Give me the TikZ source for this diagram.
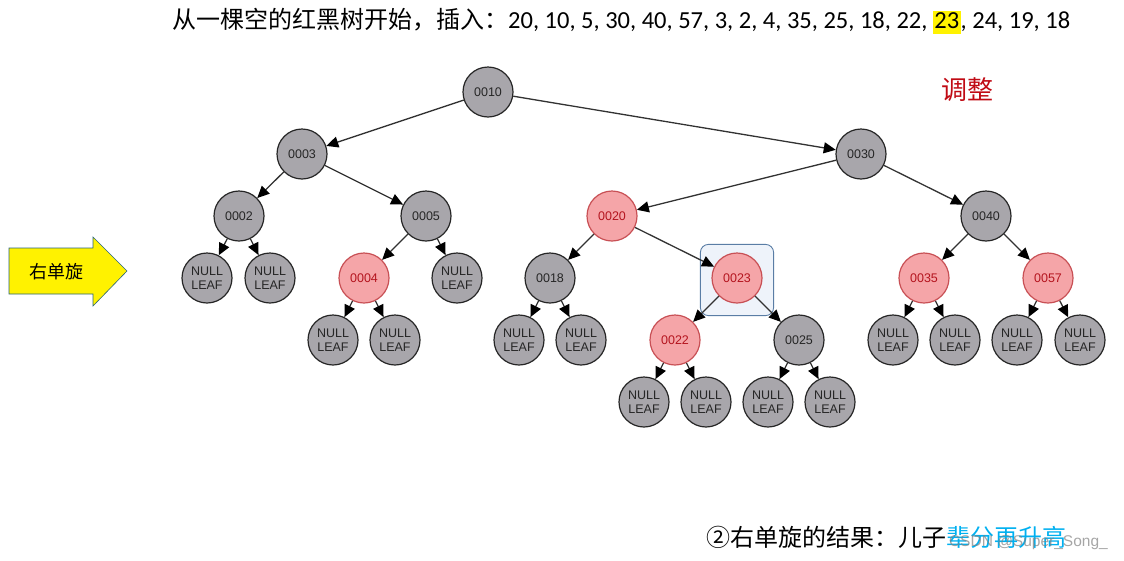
\documentclass[tikz,border=0pt]{standalone}
\usepackage{fontspec}
\usepackage{xcolor}
\usetikzlibrary{arrows.meta,fit,backgrounds}
\newfontfamily\cjk{Noto Sans CJK SC}
\newfontfamily\numfont{Carlito}
\newfontfamily\nodefont{Liberation Sans}
\newfontfamily\wmfont{Liberation Sans}
\definecolor{nodegray}{RGB}{168,166,171}
\definecolor{nodepink}{RGB}{245,165,168}
\definecolor{pinkline}{RGB}{200,80,85}
\definecolor{pinktext}{RGB}{180,20,30}
\definecolor{adjred}{RGB}{192,10,20}
\definecolor{boxblue}{RGB}{90,125,165}
\definecolor{boxfill}{RGB}{238,243,250}
\definecolor{arrowline}{RGB}{40,100,120}
\definecolor{lvblue}{RGB}{0,176,240}
\definecolor{edgegray}{RGB}{50,50,50}

\tikzset{
  blknode/.style={circle,draw=black!85,fill=nodegray,line width=1.2pt,
    minimum size=50pt,inner sep=0pt,text=black!85,align=center,
    font=\nodefont\fontsize{12.5}{14.5}\selectfont},
  rednode/.style={blknode,draw=pinkline,fill=nodepink,text=pinktext},
  nilnode/.style={blknode},
  edge/.style={draw=edgegray,line width=1.3pt,-{Triangle[length=12pt,width=11pt,color=black]}}
}

\begin{document}
\begin{tikzpicture}[x=1pt,y=-1pt]
  \useasboundingbox (0,0) rectangle (1124,560);
  % heading
  \node[anchor=base west,inner sep=0pt] (title) at (172,28)
    {\cjk\fontsize{24}{24}\selectfont 从一棵空的红黑树开始，插入：\numfont\fontsize{24.5}{24.5}\selectfont 20, 10, 5, 30, 40, 57, 3, 2, 4, 35, 25, 18, 22, {\fboxsep=1.5pt\colorbox{yellow}{\vphantom{Ag}23}}, 24, 19, 18};
  \node[anchor=base west,inner sep=0pt,text=adjred,font=\cjk\fontsize{26}{26}\selectfont] (adj) at (941,99) {调整};

  % rotation arrow
  \draw[arrowline,line width=0.6pt,fill=yellow] (9,248) -- (93,248) -- (93,237) -- (127,271)
    -- (93,306) -- (93,294) -- (9,294) -- cycle;
  \node[font=\cjk\fontsize{18}{18}\selectfont] (rot) at (56,272) {右单旋};

  % tree
  \node[blknode] (n10) at (488,92) {0010};
  \node[blknode] (n3) at (302,154) {0003};
  \node[blknode] (n30) at (861,154) {0030};
  \node[blknode] (n2) at (239,216) {0002};
  \node[blknode] (n5) at (426,216) {0005};
  \node[rednode] (n20) at (612,216) {0020};
  \node[blknode] (n40) at (986,216) {0040};
  \node[nilnode] (nil2a) at (207,278) {NULL\\LEAF};
  \node[nilnode] (nil2b) at (270,278) {NULL\\LEAF};
  \node[rednode] (n4) at (364,278) {0004};
  \node[nilnode] (nil5) at (457,278) {NULL\\LEAF};
  \node[blknode] (n18) at (550,278) {0018};
  \node[rednode] (n23) at (737,278) {0023};
  \node[rednode] (n35) at (924,278) {0035};
  \node[rednode] (n57) at (1048,278) {0057};
  \node[nilnode] (nil4a) at (333,340) {NULL\\LEAF};
  \node[nilnode] (nil4b) at (395,340) {NULL\\LEAF};
  \node[nilnode] (nil18a) at (519,340) {NULL\\LEAF};
  \node[nilnode] (nil18b) at (581,340) {NULL\\LEAF};
  \node[rednode] (n22) at (675,340) {0022};
  \node[blknode] (n25) at (799,340) {0025};
  \node[nilnode] (nil35a) at (893,340) {NULL\\LEAF};
  \node[nilnode] (nil35b) at (955,340) {NULL\\LEAF};
  \node[nilnode] (nil57a) at (1017,340) {NULL\\LEAF};
  \node[nilnode] (nil57b) at (1080,340) {NULL\\LEAF};
  \node[nilnode] (nil22a) at (644,402) {NULL\\LEAF};
  \node[nilnode] (nil22b) at (706,402) {NULL\\LEAF};
  \node[nilnode] (nil25a) at (768,402) {NULL\\LEAF};
  \node[nilnode] (nil25b) at (830,402) {NULL\\LEAF};

  \begin{scope}[on background layer]
    \node[fit=(n23),inner xsep=11pt,inner ysep=10pt,yshift=-2pt,rounded corners=8pt,
      draw=boxblue,fill=boxfill,line width=0.9pt] (hl) {};
  \end{scope}

  \foreach \a/\b in {n10/n3,n10/n30,n3/n2,n3/n5,n30/n20,n30/n40,
      n2/nil2a,n2/nil2b,n5/n4,n5/nil5,n20/n18,n20/n23,n40/n35,n40/n57,
      n4/nil4a,n4/nil4b,n18/nil18a,n18/nil18b,n23/n22,n23/n25,
      n35/nil35a,n35/nil35b,n57/nil57a,n57/nil57b,
      n22/nil22a,n22/nil22b,n25/nil25a,n25/nil25b}
    \draw[edge] (\a) -- (\b);

  % result line
  \node[anchor=base west,inner sep=0pt,font=\cjk\fontsize{24}{24}\selectfont] (res) at (706,546)
    {②右单旋的结果：儿子\textcolor{lvblue}{辈分再升高}};
  \node[anchor=base east,inner sep=0pt,text=gray,opacity=0.7,font=\wmfont\fontsize{15.5}{15.5}\selectfont] (wm) at (1108,546) {CSDN @Super\_Song\_};
\end{tikzpicture}
\end{document}
